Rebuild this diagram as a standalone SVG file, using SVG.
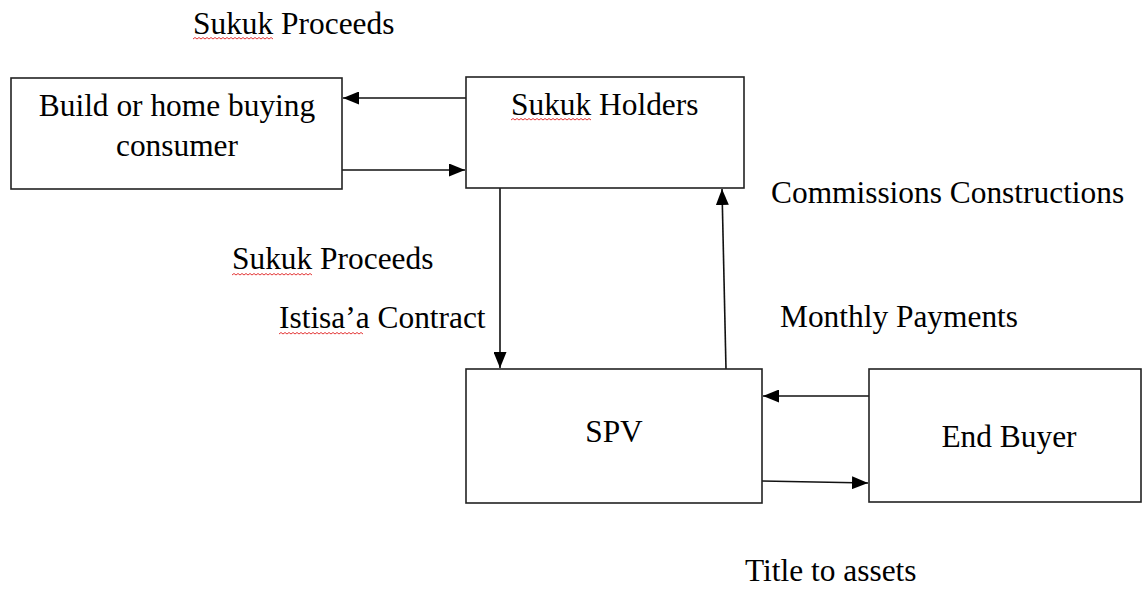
<svg xmlns="http://www.w3.org/2000/svg" width="1143" height="589" viewBox="0 0 1143 589">
<style>
.box{fill:#fff;stroke:#222;stroke-width:1.6}
.lbl{font-family:"Liberation Serif","Times New Roman",serif;font-size:31.4px;fill:#000}
.c{text-anchor:middle}
.con{stroke:#111;stroke-width:1.6;fill:none;marker-end:url(#ah)}
.wavy{stroke:#e02020;stroke-width:0.9;fill:none}
</style>
<defs>
<marker id="ah" markerUnits="userSpaceOnUse" markerWidth="16" markerHeight="13" viewBox="0 0 16 13" refX="16" refY="6.5" orient="auto">
<path d="M0 0 L16 6.5 L0 13 z" fill="#000"/>
</marker>
</defs>
<rect width="1143" height="589" fill="#fff"/>
<g id="connectors">
<path class="con" d="M466 98 L343 98"/>
<path class="con" d="M342 170 L465 170"/>
<path class="con" d="M500 188 L500 368"/>
<path class="con" d="M726 369 L722 189"/>
<path class="con" d="M869 396 L763 396"/>
<path class="con" d="M762 481 L868 483"/>
</g>
<g id="node-consumer">
<rect class="box" x="11" y="78" width="331" height="111"/>
<text class="lbl c" x="177" y="116">Build or home buying</text>
<text class="lbl c" x="177" y="156">consumer</text>
</g>
<g id="node-sukuk-holders">
<rect class="box" x="466" y="77" width="278" height="111"/>
<text class="lbl" x="511" y="115">Sukuk Holders</text>
<path class="wavy" d="M511 120 l2-1.5 2 1.5 2-1.5 2 1.5 2-1.5 2 1.5 2-1.5 2 1.5 2-1.5 2 1.5 2-1.5 2 1.5 2-1.5 2 1.5 2-1.5 2 1.5 2-1.5 2 1.5 2-1.5 2 1.5 2-1.5 2 1.5 2-1.5 2 1.5 2-1.5 2 1.5 2-1.5 2 1.5 2-1.5 2 1.5 2-1.5 2 1.5 2-1.5 2 1.5 2-1.5 2 1.5 2-1.5 2 1.5 2-1.5 2 1.5"/>
</g>
<g id="node-spv">
<rect class="box" x="466" y="369" width="296" height="134"/>
<text class="lbl c" x="614" y="442">SPV</text>
</g>
<g id="node-end-buyer">
<rect class="box" x="869" y="369" width="272" height="133"/>
<text class="lbl c" x="1009" y="447">End Buyer</text>
</g>
<g id="labels">
<text class="lbl" x="193" y="34">Sukuk Proceeds</text>
<path class="wavy" d="M193 39 l2-1.5 2 1.5 2-1.5 2 1.5 2-1.5 2 1.5 2-1.5 2 1.5 2-1.5 2 1.5 2-1.5 2 1.5 2-1.5 2 1.5 2-1.5 2 1.5 2-1.5 2 1.5 2-1.5 2 1.5 2-1.5 2 1.5 2-1.5 2 1.5 2-1.5 2 1.5 2-1.5 2 1.5 2-1.5 2 1.5 2-1.5 2 1.5 2-1.5 2 1.5 2-1.5 2 1.5 2-1.5 2 1.5 2-1.5 2 1.5"/>
<text class="lbl" x="232" y="269">Sukuk Proceeds</text>
<path class="wavy" d="M232 275 l2-1.5 2 1.5 2-1.5 2 1.5 2-1.5 2 1.5 2-1.5 2 1.5 2-1.5 2 1.5 2-1.5 2 1.5 2-1.5 2 1.5 2-1.5 2 1.5 2-1.5 2 1.5 2-1.5 2 1.5 2-1.5 2 1.5 2-1.5 2 1.5 2-1.5 2 1.5 2-1.5 2 1.5 2-1.5 2 1.5 2-1.5 2 1.5 2-1.5 2 1.5 2-1.5 2 1.5 2-1.5 2 1.5 2-1.5 2 1.5"/>
<text class="lbl" x="279" y="328">Istisa’a Contract</text>
<path class="wavy" d="M279 334 l2-1.5 2 1.5 2-1.5 2 1.5 2-1.5 2 1.5 2-1.5 2 1.5 2-1.5 2 1.5 2-1.5 2 1.5 2-1.5 2 1.5 2-1.5 2 1.5 2-1.5 2 1.5 2-1.5 2 1.5 2-1.5 2 1.5 2-1.5 2 1.5 2-1.5 2 1.5 2-1.5 2 1.5 2-1.5 2 1.5 2-1.5 2 1.5 2-1.5 2 1.5 2-1.5 2 1.5 2-1.5 2 1.5 2-1.5 2 1.5 2-1.5 2 1.5"/>
<text class="lbl" x="771" y="203">Commissions Constructions</text>
<text class="lbl" x="780" y="327">Monthly Payments</text>
<text class="lbl" x="745" y="581">Title to assets</text>
</g>
</svg>
